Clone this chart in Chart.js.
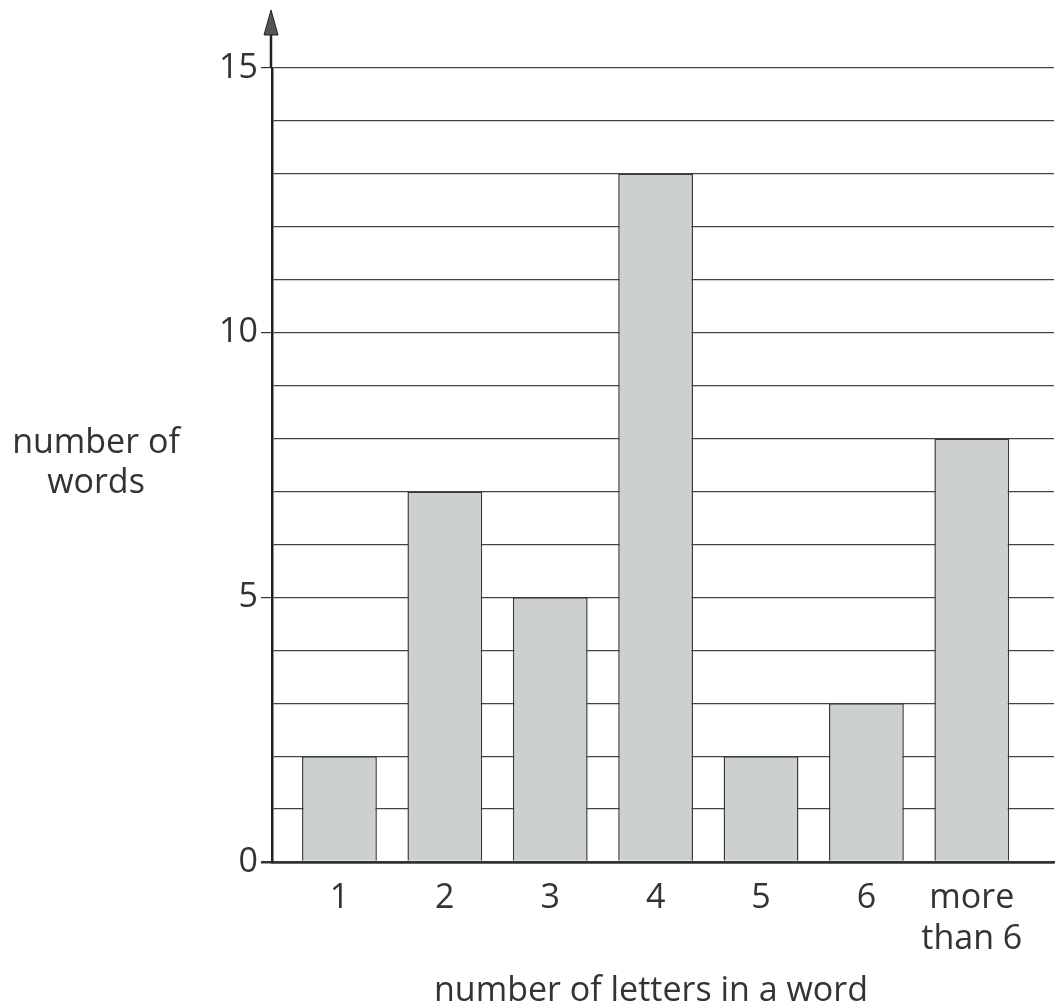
<!DOCTYPE html>
<html>
<head>
<meta charset="utf-8">
<title>number of letters in a word</title>
<script src="https://cdn.jsdelivr.net/npm/chart.js@4.4.1/dist/chart.umd.min.js"></script>
<style>
body { margin: 0; background: #fff; }
#wrap { position: relative; width: 1055px; height: 1008px; font-family: "Open Sans", sans-serif; color: #333; }
#grafico { position: absolute; left: 0; top: 0; }
.titulo { position: absolute; font-size: 34px; line-height: 40px; text-align: center; white-space: nowrap; }
#tituloY { left: 0; top: 420px; width: 192px; }
#tituloX { left: 351px; top: 968px; width: 600px; }
</style>
</head>
<body>
<div id="wrap">
  <canvas id="grafico" width="1055" height="1008"></canvas>
  <div class="titulo" id="tituloY">number of<br>words</div>
  <div class="titulo" id="tituloX">number of letters in a word</div>
</div>
<script>
// datos
const categorias = ['1', '2', '3', '4', '5', '6', ['more', 'than 6']];
const numeroPalabras = [2, 7, 5, 13, 2, 3, 8];
const marcasY = [0, 5, 10, 15];

const puntos = numeroPalabras.map((v, i) => ({ x: i + 1, y: v }));

const fuente = { family: 'Open Sans', size: 34 };

// flecha arriba del eje y
const flecha = {
    id: 'flecha',
    afterDraw(chart) {
        const { ctx, chartArea } = chart;
        const x = chartArea.left - 1;
        ctx.save();
        ctx.strokeStyle = '#222';
        ctx.lineWidth = 2.5;
        ctx.beginPath();
        ctx.moveTo(x, chartArea.top);
        ctx.lineTo(x, 30);
        ctx.stroke();
        ctx.fillStyle = '#555';
        ctx.lineWidth = 1;
        ctx.beginPath();
        ctx.moveTo(x, 10);
        ctx.lineTo(x - 7, 35);
        ctx.lineTo(x + 7, 35);
        ctx.closePath();
        ctx.fill();
        ctx.stroke();
        ctx.restore();
    }
};

const ctx = document.getElementById('grafico');
const grafico = new Chart(ctx, {
    type: 'bar',
    data: {
        datasets: [{
            data: puntos,
            backgroundColor: '#cdd0d1',
            borderColor: '#3a3a3a',
            borderWidth: 1.5,
            barPercentage: 0.71,
            categoryPercentage: 1
        }]
    },
    options: {
        responsive: false,
        animation: false,
        devicePixelRatio: 1,
        layout: { padding: { left: 0, right: 1, top: 68, bottom: 0 } },
        plugins: {
            legend: { display: false },
            tooltip: { enabled: false }
        },
        scales: {
            x: {
                type: 'linear',
                min: 0.36,
                max: 7.78,
                offset: false,
                grid: { display: false, drawTicks: false },
                border: { color: '#333', width: 2.5 },
                ticks: {
                    stepSize: 1,
                    includeBounds: false,
                    autoSkip: false,
                    maxRotation: 0,
                    padding: 16,
                    color: '#333',
                    font: fuente,
                    callback: (v) => (Number.isInteger(v) && v >= 1 && v <= categorias.length) ? categorias[v - 1] : ''
                },
                afterFit: (s) => { s.height = 146; }
            },
            y: {
                min: 0,
                max: 15,
                ticks: {
                    stepSize: 1,
                    autoSkip: false,
                    padding: 3,
                    color: '#333',
                    font: fuente,
                    callback: (v) => marcasY.includes(v) ? String(v) : ''
                },
                grid: {
                    color: (c) => c.tick.value === 0 ? '#333' : '#444',
                    lineWidth: (c) => c.tick.value === 0 ? 2.5 : 1.2,
                    tickLength: 11,
                    tickColor: (c) => marcasY.includes(c.tick.value) ? '#333' : 'rgba(0,0,0,0)'
                },
                border: { color: '#222', width: 2.5 },
                afterFit: (s) => { s.width = 272; }
            }
        }
    },
    plugins: [flecha]
});
</script>
</body>
</html>
